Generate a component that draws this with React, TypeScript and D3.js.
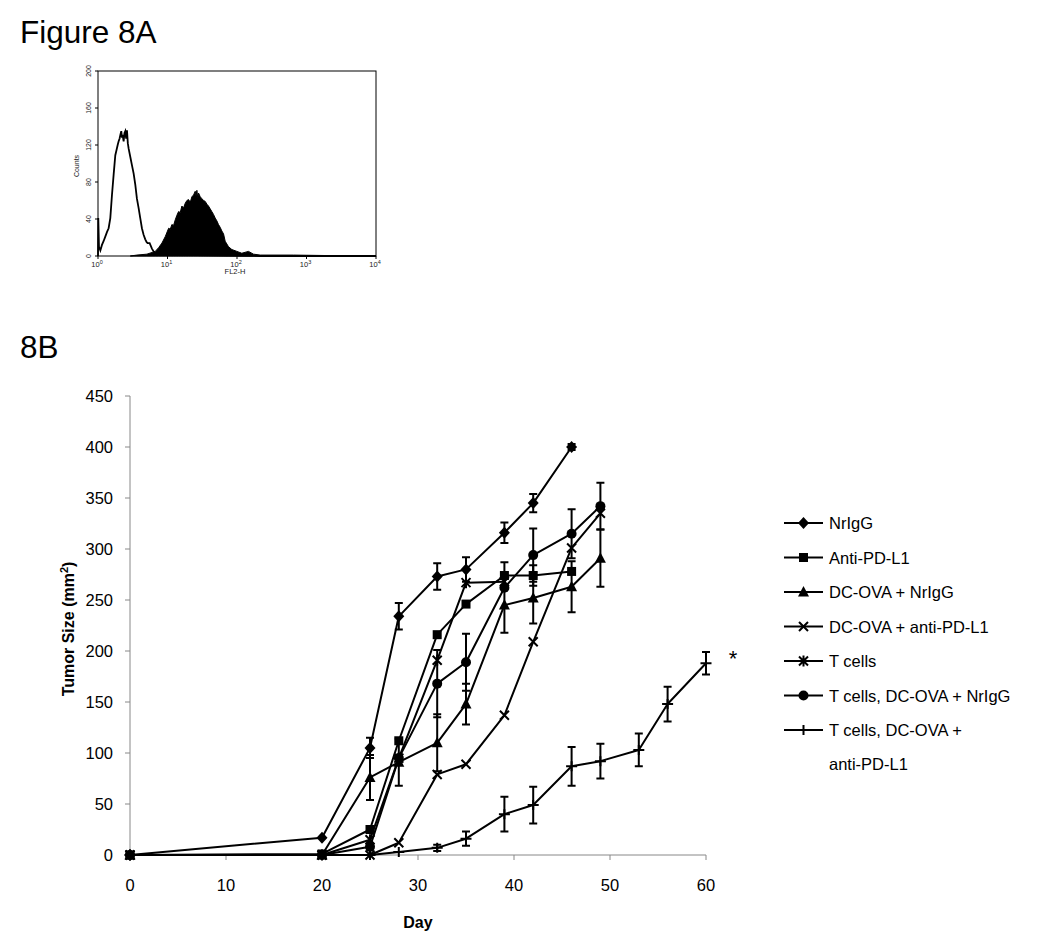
import React from "react";
import * as d3 from "d3";

// ---------- Figure 8A: flow histogram (log10 FL2-H vs counts) ----------
const histOpenLog = [0, 0.004, 0.014, 0.034, 0.057, 0.08, 0.105, 0.13, 0.153, 0.177, 0.201, 0.225, 0.249, 0.265, 0.283, 0.297, 0.311, 0.325, 0.335, 0.345, 0.354, 0.369, 0.381, 0.393, 0.405, 0.417, 0.429, 0.441, 0.465, 0.489, 0.513, 0.537, 0.56, 0.584, 0.608, 0.632, 0.656, 0.68, 0.7, 0.714, 0.743, 0.776, 0.8, 0.834, 0.872, 0.992, 1.375, 1.854, 2.333, 4.0];
const histOpenCount = [0, 41, 10, 6, 12, 16, 21, 26, 30, 41, 66, 88, 109, 114, 120, 124, 127, 132, 135, 128, 131, 124, 133, 135, 127, 136, 122, 116, 107, 98, 89, 77, 62, 52, 41, 30, 23, 18, 15, 14, 14, 8, 5, 3, 1, 1, 1, 0.5, 0, 0];
const histFillLog = [0.465, 0.56, 0.704, 0.824, 0.872, 0.92, 0.968, 1.016, 1.04, 1.063, 1.087, 1.111, 1.135, 1.159, 1.183, 1.207, 1.231, 1.255, 1.279, 1.303, 1.327, 1.351, 1.375, 1.399, 1.411, 1.423, 1.435, 1.447, 1.471, 1.495, 1.519, 1.543, 1.567, 1.59, 1.614, 1.638, 1.662, 1.686, 1.71, 1.734, 1.758, 1.782, 1.806, 1.83, 1.878, 1.926, 1.998, 2.069, 2.165, 2.237, 2.333, 2.812, 3.291, 4.0];
const histFillCount = [0, 1, 2, 5, 9, 14, 21, 30, 29, 34, 33, 39, 44, 48, 47, 54, 52, 57, 60, 61, 58, 64, 66, 70, 65, 71, 63, 68, 64, 62, 60, 59, 56, 54, 51, 48, 45, 41, 38, 34, 31, 27, 24, 16, 10, 7, 5, 3, 5, 2, 1, 1, 0.5, 0];
const histYTicks = [0, 40, 80, 120, 160, 200];
const histXDecades = [0, 1, 2, 3, 4];

// ---------- Figure 8B: tumour growth ----------
const seriesNames = [
  "NrIgG",
  "Anti-PD-L1",
  "DC-OVA + NrIgG",
  "DC-OVA + anti-PD-L1",
  "T cells",
  "T cells, DC-OVA + NrIgG",
  "T cells, DC-OVA + anti-PD-L1",
];
const legendLines = [
  ["NrIgG"],
  ["Anti-PD-L1"],
  ["DC-OVA + NrIgG"],
  ["DC-OVA + anti-PD-L1"],
  ["T cells"],
  ["T cells, DC-OVA + NrIgG"],
  ["T cells, DC-OVA +", "anti-PD-L1"],
];
const markers = ["diamond", "square", "triangle", "x", "asterisk", "circle", "dash"];

const nrIgGDays = [0, 20, 25, 28, 32, 35, 39, 42, 46];
const nrIgGVals = [0, 17, 105, 234, 273, 280, 316, 345, 400];
const nrIgGErr = [0, 0, 10, 13, 13, 12, 10, 9, 3];

const antiDays = [0, 20, 25, 28, 32, 35, 39, 42, 46];
const antiVals = [0, 1, 25, 112, 216, 246, 274, 274, 278];
const antiErr = [0, 0, 0, 0, 0, 0, 13, 10, 0];

const dcNrDays = [0, 20, 25, 28, 32, 35, 39, 42, 46, 49];
const dcNrVals = [0, 0, 76, 91, 110, 148, 245, 252, 263, 291];
const dcNrErr = [0, 0, 22, 23, 28, 20, 27, 25, 25, 28];

const dcAntiDays = [0, 20, 25, 28, 32, 35, 39, 42, 46, 49];
const dcAntiVals = [0, 0, 0, 12, 79, 89, 137, 209, 301, 335];
const dcAntiErr = [0, 0, 0, 0, 0, 0, 0, 0, 0, 0];

const tDays = [0, 20, 25, 28, 32, 35, 39];
const tVals = [0, 0, 15, 95, 191, 267, 268];
const tErr = [0, 0, 0, 0, 0, 0, 0];

const tDcNrDays = [0, 20, 25, 28, 32, 35, 39, 42, 46, 49];
const tDcNrVals = [0, 0, 8, 95, 168, 189, 262, 294, 315, 342];
const tDcNrErr = [0, 0, 0, 0, 33, 28, 0, 26, 24, 23];

const tDcAntiDays = [0, 20, 25, 28, 32, 35, 39, 42, 46, 49, 53, 56, 60];
const tDcAntiVals = [0, 0, 0, 3, 7, 16, 40, 49, 87, 92, 103, 148, 188];
const tDcAntiErr = [0, 0, 0, 0, 3, 7, 17, 18, 19, 17, 16, 17, 11];

const seriesDays = [nrIgGDays, antiDays, dcNrDays, dcAntiDays, tDays, tDcNrDays, tDcAntiDays];
const seriesVals = [nrIgGVals, antiVals, dcNrVals, dcAntiVals, tVals, tDcNrVals, tDcAntiVals];
const seriesErr = [nrIgGErr, antiErr, dcNrErr, dcAntiErr, tErr, tDcNrErr, tDcAntiErr];

const yTicks = [0, 50, 100, 150, 200, 250, 300, 350, 400, 450];
const xTicks = [0, 10, 20, 30, 40, 50, 60];

const FONT = "'Liberation Sans', Arial, Helvetica, sans-serif";

function Marker({ type, cx, cy }: { type: string; cx: number; cy: number }) {
  const s = 2;
  switch (type) {
    case "diamond":
      return <path d={`M${cx},${cy - 6}L${cx + 5.5},${cy}L${cx},${cy + 6}L${cx - 5.5},${cy}Z`} fill="#000" />;
    case "square":
      return <rect x={cx - 4.5} y={cy - 4.5} width={9} height={9} fill="#000" />;
    case "triangle":
      return <path d={`M${cx},${cy - 6}L${cx + 5.5},${cy + 4.5}L${cx - 5.5},${cy + 4.5}Z`} fill="#000" />;
    case "circle":
      return <circle cx={cx} cy={cy} r={5} fill="#000" />;
    case "x":
      return (
        <path d={`M${cx - 4.5},${cy - 4.5}L${cx + 4.5},${cy + 4.5}M${cx + 4.5},${cy - 4.5}L${cx - 4.5},${cy + 4.5}`} stroke="#000" strokeWidth={s} fill="none" />
      );
    case "asterisk":
      return (
        <path d={`M${cx - 4.5},${cy - 4.5}L${cx + 4.5},${cy + 4.5}M${cx + 4.5},${cy - 4.5}L${cx - 4.5},${cy + 4.5}M${cx},${cy - 5.5}L${cx},${cy + 5.5}`} stroke="#000" strokeWidth={s} fill="none" />
      );
    case "dash":
      return <path d={`M${cx - 5.5},${cy}L${cx + 5.5},${cy}M${cx},${cy - 5}L${cx},${cy + 5}`} stroke="#000" strokeWidth={s} fill="none" />;
    default:
      return null;
  }
}

function Histogram() {
  const hx = d3.scaleLinear().domain([0, 4]).range([98, 376]);
  const hy = d3.scaleLinear().domain([0, 200]).range([256, 71]);
  const openPts = histOpenLog.map((l, i) => [hx(l), hy(histOpenCount[i])] as [number, number]);
  const fillPts = histFillLog.map((l, i) => [hx(l), hy(histFillCount[i])] as [number, number]);
  const line = d3.line();
  const area = d3
    .area<[number, number]>()
    .x((d) => d[0])
    .y0(hy(0))
    .y1((d) => d[1]);
  return (
    <g>
      <path d={area(fillPts) || ""} fill="#000" stroke="#000" strokeWidth={1} />
      <path d={line(openPts) || ""} fill="none" stroke="#000" strokeWidth={1.8} />
      <rect x={98} y={71} width={278} height={185} fill="none" stroke="#000" strokeWidth={1} />
      {histYTicks.map((t) => (
        <g key={t}>
          <line x1={95} x2={98} y1={hy(t)} y2={hy(t)} stroke="#000" strokeWidth={1} />
          <text
            transform={`translate(${91},${hy(t)}) rotate(-90)`}
            textAnchor="middle"
            fontFamily={FONT}
            fontSize={7}
            fill="#222"
          >
            {t}
          </text>
        </g>
      ))}
      {histXDecades.map((k) => (
        <g key={k}>
          <line x1={hx(k)} x2={hx(k)} y1={256} y2={259} stroke="#000" strokeWidth={1} />
          <text x={hx(k) - 1} y={267} textAnchor="middle" fontFamily={FONT} fontSize={7.5} fill="#222">
            10
            <tspan dy={-3} fontSize={5.5}>
              {k}
            </tspan>
          </text>
        </g>
      ))}
      <text transform={`translate(79,166) rotate(-90)`} textAnchor="middle" fontFamily={FONT} fontSize={7} fill="#222">
        Counts
      </text>
      <text x={235} y={274} textAnchor="middle" fontFamily={FONT} fontSize={7.5} fill="#222">
        FL2-H
      </text>
    </g>
  );
}

function GrowthChart() {
  const x = d3.scaleLinear().domain([0, 60]).range([130, 706]);
  const y = d3.scaleLinear().domain([0, 450]).range([855, 396]);
  const line = d3
    .line<[number, number]>()
    .x((d) => x(d[0]))
    .y((d) => y(d[1]));
  const axisColor = "#888";
  return (
    <g>
      {/* axes */}
      <line x1={130} x2={130} y1={y(450)} y2={y(0)} stroke={axisColor} strokeWidth={1} />
      <line x1={130} x2={x(60)} y1={y(0)} y2={y(0)} stroke={axisColor} strokeWidth={1} />
      {yTicks.map((t) => (
        <g key={t}>
          <line x1={125} x2={130} y1={y(t)} y2={y(t)} stroke={axisColor} strokeWidth={1} />
          <text x={113} y={y(t) + 6} textAnchor="end" fontFamily={FONT} fontSize={16.5} fill="#000">
            {t}
          </text>
        </g>
      ))}
      {xTicks.map((t) => (
        <g key={t}>
          <line x1={x(t)} x2={x(t)} y1={y(0)} y2={y(0) + 5} stroke={axisColor} strokeWidth={1} />
          <text x={x(t)} y={891} textAnchor="middle" fontFamily={FONT} fontSize={16.5} fill="#000">
            {t}
          </text>
        </g>
      ))}
      <text x={418} y={928} textAnchor="middle" fontFamily={FONT} fontSize={16} fontWeight="bold">
        Day
      </text>
      <text transform={`translate(74,629) rotate(-90)`} textAnchor="middle" fontFamily={FONT} fontSize={16} fontWeight="bold">
        Tumor Size (mm
        <tspan dy={-6} fontSize={11}>
          2
        </tspan>
        <tspan dy={6}>)</tspan>
      </text>

      {/* series */}
      {seriesNames.map((name, si) => {
        const pts = seriesDays[si].map((d, i) => [d, seriesVals[si][i]] as [number, number]);
        return (
          <g key={name}>
            <path d={line(pts) || ""} fill="none" stroke="#000" strokeWidth={2} strokeLinejoin="round" />
            {pts.map((p, i) => {
              const e = seriesErr[si][i];
              if (!e) return null;
              const cx = x(p[0]);
              return (
                <path
                  key={"e" + i}
                  d={`M${cx},${y(p[1] + e)}L${cx},${y(p[1] - e)}M${cx - 4},${y(p[1] + e)}L${cx + 4},${y(p[1] + e)}M${cx - 4},${y(p[1] - e)}L${cx + 4},${y(p[1] - e)}`}
                  stroke="#000"
                  strokeWidth={2}
                  fill="none"
                />
              );
            })}
            {pts.map((p, i) => (
              <Marker key={"m" + i} type={markers[si]} cx={x(p[0])} cy={y(p[1])} />
            ))}
          </g>
        );
      })}
      <text x={733} y={666} textAnchor="middle" fontFamily={FONT} fontSize={22}>
        *
      </text>

      {/* legend */}
      {legendLines.map((lines, i) => {
        const ly = 523 + i * 34.5;
        return (
          <g key={i}>
            <line x1={784} x2={823} y1={ly} y2={ly} stroke="#000" strokeWidth={2} />
            <Marker type={markers[i]} cx={803.5} cy={ly} />
            {lines.map((t, j) => (
              <text key={j} x={829} y={ly + 6 + j * 34} fontFamily={FONT} fontSize={16.5} fill="#000">
                {t}
              </text>
            ))}
          </g>
        );
      })}
    </g>
  );
}

export default function App() {
  return (
    <svg
      width={1050}
      height={951}
      style={{ position: "absolute", left: 0, top: 0, background: "#fff" }}
      xmlns="http://www.w3.org/2000/svg"
    >
      <rect x={0} y={0} width={1050} height={951} fill="#fff" />
      <text x={20} y={43} fontFamily={FONT} fontSize={31.5}>
        Figure 8A
      </text>
      <text x={20} y={358} fontFamily={FONT} fontSize={31.5}>
        8B
      </text>
      <Histogram />
      <GrowthChart />
    </svg>
  );
}
